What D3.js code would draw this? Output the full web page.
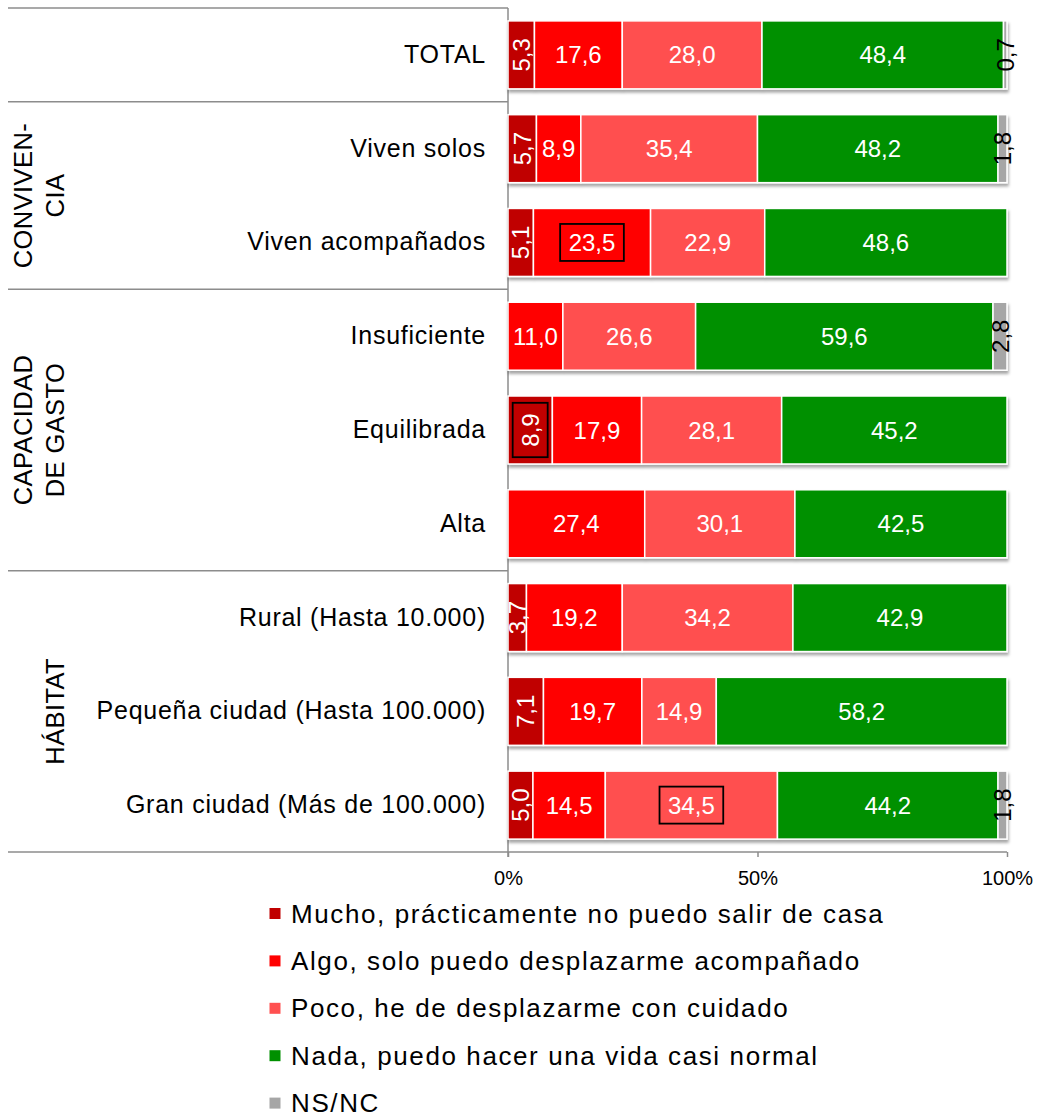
<!DOCTYPE html>
<html lang="es">
<head>
<meta charset="UTF-8">
<title>Limitación para desplazarse</title>
<style>
  body, html { margin: 0; padding: 0; background: #fff; }
  svg { display: block; font-family: 'Liberation Sans', Arial, sans-serif; }
  .cat text { font-size: 25px; letter-spacing: 0.75px; fill: #000; }
  .xaxis text { font-size: 20px; fill: #000; }
  .xaxis line { stroke: #8c8c8c; stroke-width: 1.5px; }
  .val { font-size: 24px; }
  .grp { font-size: 25.5px; letter-spacing: 0.4px; }
  .leg text { font-size: 26px; letter-spacing: 1.6px; }
</style>
</head>
<body>
<div id="chart"></div>
<script src="https://d3js.org/d3.v7.min.js"></script>
<script>
// rows (top to bottom)
const categories = ["TOTAL", "Viven solos", "Viven acompañados", "Insuficiente", "Equilibrada", "Alta",
  "Rural (Hasta 10.000)", "Pequeña ciudad (Hasta 100.000)", "Gran ciudad (Más de 100.000)"];

// series
const seriesNames = ["Mucho, prácticamente no puedo salir de casa", "Algo, solo puedo desplazarme acompañado",
  "Poco, he de desplazarme con cuidado", "Nada, puedo hacer una vida casi normal", "NS/NC"];
const mucho = [5.3, 5.7, 5.1, 0, 8.9, 0, 3.7, 7.1, 5.0];
const algo  = [17.6, 8.9, 23.5, 11.0, 17.9, 27.4, 19.2, 19.7, 14.5];
const poco  = [28.0, 35.4, 22.9, 26.6, 28.1, 30.1, 34.2, 14.9, 34.5];
const nada  = [48.4, 48.2, 48.6, 59.6, 45.2, 42.5, 42.9, 58.2, 44.2];
const nsnc  = [0.7, 1.8, 0, 2.8, 0, 0, 0, 0, 1.8];

// row groups
const groupLines = [["CONVIVEN-", "CIA"], ["CAPACIDAD", "DE GASTO"], ["HÁBITAT"]];
const groupFirst = ["Viven solos", "Insuficiente", "Rural (Hasta 10.000)"];
const groupLast  = ["Viven acompañados", "Alta", "Gran ciudad (Más de 100.000)"];

// labels drawn with a box
const boxed = [["Viven acompañados", 1], ["Equilibrada", 0], ["Gran ciudad (Más de 100.000)", 2]];

const xTicks = [0, 0.5, 1];
const colors = ["#c00000", "#ff0000", "#ff5050", "#009000", "#a6a6a6"];
const rotatedSeries = [0, 4];

const W = 1039, H = 1117;
const plotL = 508, plotR = 1007, plotT = 8, plotB = 852, lineStart = 8;

const svg = d3.select("#chart").append("svg").attr("width", W).attr("height", H);

const defs = svg.append("defs");
const f = defs.append("filter").attr("id", "shadow").attr("x", "-5%").attr("y", "-20%").attr("width", "110%").attr("height", "150%");
f.append("feDropShadow").attr("dx", 1).attr("dy", 3).attr("stdDeviation", 1.6)
  .attr("flood-color", "#000").attr("flood-opacity", 0.35);

const x = d3.scaleLinear().domain([0, 1]).range([plotL, plotR]);
const y = d3.scaleBand().domain(categories).range([plotT, plotB]).paddingInner(0.275).paddingOuter(0.1375);

const table = categories.map((c, i) => ({
  cat: c, s0: mucho[i], s1: algo[i], s2: poco[i], s3: nada[i], s4: nsnc[i]
}));
const keys = ["s0", "s1", "s2", "s3", "s4"];
const stack = d3.stack().keys(keys).offset(d3.stackOffsetExpand)(table);

const fmt = v => d3.format(".1f")(v).replace(".", ",");

// separator lines
const step = y.step();
const bounds = [categories[0]].concat(groupFirst).map(c => y(c) - y.paddingOuter() * step);
bounds.forEach(b => {
  svg.append("line").attr("x1", lineStart).attr("x2", plotL).attr("y1", b).attr("y2", b)
    .attr("stroke", "#8c8c8c").attr("stroke-width", 1.5);
});
svg.append("line").attr("x1", lineStart).attr("x2", plotR).attr("y1", plotB).attr("y2", plotB)
  .attr("stroke", "#8c8c8c").attr("stroke-width", 1.5);
svg.append("line").attr("x1", plotL).attr("x2", plotL).attr("y1", plotT).attr("y2", plotB + 5)
  .attr("stroke", "#8c8c8c").attr("stroke-width", 1.5);

// bars
const rows = svg.append("g").selectAll("g.row").data(categories).join("g")
  .attr("class", "row").attr("filter", "url(#shadow)");
rows.each(function(c, i) {
  const g = d3.select(this);
  stack.forEach((s, k) => {
    const d = s[i];
    if (d[1] - d[0] <= 0) return;
    g.append("rect")
      .attr("x", x(d[0])).attr("width", x(d[1]) - x(d[0]))
      .attr("y", y(c)).attr("height", y.bandwidth())
      .attr("fill", colors[k]).attr("stroke", "#fff").attr("stroke-width", 1.5);
  });
});

// value labels
const labels = svg.append("g");
stack.forEach((s, k) => {
  s.forEach((d, i) => {
    const v = table[i][keys[k]];
    if (!v) return;
    const cx = x((d[0] + d[1]) / 2), cy = y(categories[i]) + y.bandwidth() / 2;
    const rot = rotatedSeries.includes(k);
    const g = labels.append("g").attr("transform", `translate(${cx},${cy})` + (rot ? " rotate(-90)" : ""));
    const t = g.append("text").attr("class", "val")
      .attr("text-anchor", "middle").attr("dominant-baseline", "central")
      .attr("fill", k === 4 ? "#000" : "#fff").text(fmt(v));
    if (boxed.some(b => b[0] === categories[i] && b[1] === k)) {
      const bb = t.node().getBBox();
      const padX = rot ? 10.5 : 8.5, h = rot ? 35 : 37;
      g.insert("rect", "text").attr("x", bb.x - padX).attr("y", -h / 2)
        .attr("width", bb.width + 2 * padX).attr("height", h)
        .attr("fill", "none").attr("stroke", "#000").attr("stroke-width", 1.8);
    }
  });
});

// category labels
svg.append("g").attr("class", "cat").attr("transform", `translate(${plotL},0)`)
  .call(d3.axisLeft(y).tickSize(0).tickPadding(22))
  .call(g => g.select(".domain").remove());

// x axis
svg.append("g").attr("class", "xaxis").attr("transform", `translate(0,${plotB})`)
  .call(d3.axisBottom(x).tickValues(xTicks).tickFormat(d3.format(".0%")).tickSize(5).tickPadding(14))
  .call(g => g.select(".domain").remove());

// group labels
groupLines.forEach((lines, gi) => {
  const y0 = y(groupFirst[gi]) - y.paddingOuter() * step;
  const y1 = y(groupLast[gi]) + y.bandwidth() + y.paddingOuter() * step;
  const cy = (y0 + y1) / 2;
  lines.forEach((ln, li) => {
    const bx = 64 - 32 * (lines.length - 1 - li);
    svg.append("text").attr("class", "grp")
      .attr("transform", `translate(${bx},${cy}) rotate(-90)`)
      .attr("text-anchor", "middle").text(ln);
  });
});

// legend
const leg = svg.append("g").attr("class", "leg").selectAll("g").data(seriesNames).join("g")
  .attr("transform", (d, i) => `translate(269.5,${913.5 + 47.4 * i})`);
leg.append("rect").attr("x", 0).attr("y", -5.5).attr("width", 11).attr("height", 11)
  .attr("fill", (d, i) => colors[i]);
leg.append("text").attr("x", 21.5).attr("dominant-baseline", "central").text(d => d);
</script>
</body>
</html>
